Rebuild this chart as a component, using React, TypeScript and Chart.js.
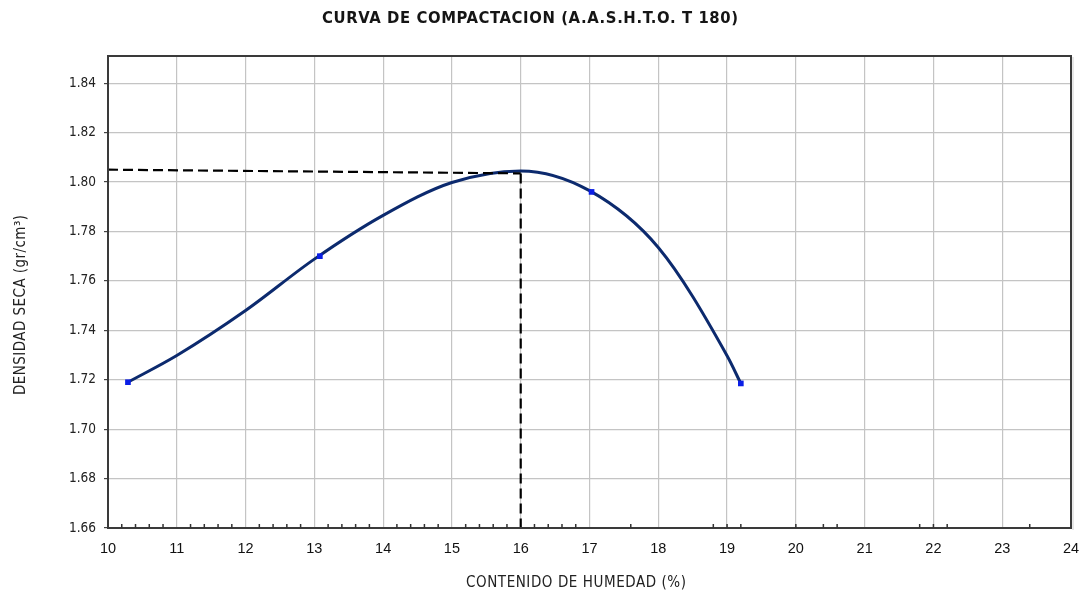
import React, { useEffect, useRef } from "react";
import { Chart, registerables } from "chart.js";

Chart.register(...registerables);

// Ensayo Proctor modificado: puntos medidos
const humedad = [10.29, 13.08, 17.03, 19.2];
const densidad = [1.719, 1.77, 1.796, 1.7185];

// Curva de ajuste leída a lo largo del trazo
const curvaHumedad = [10.29, 11, 12, 13, 14, 15, 16, 17, 18, 19, 19.2];
const curvaDensidad = [1.719, 1.7298, 1.748, 1.7688, 1.7865, 1.7998, 1.8045, 1.7965, 1.7735, 1.7297, 1.7185];

// Lineas de referencia: densidad seca maxima y humedad optima
const maxDensX = [10, 16];
const maxDensY = [1.805, 1.8035];
const optHumX = [16, 16];
const optHumY = [1.8035, 1.66];

// Marcas menores sobre el eje horizontal
const marcasMenores = [
  10.2, 10.4, 10.6, 10.8, 11.2, 11.4, 11.6, 11.8, 12.2, 12.4, 12.6, 12.8,
  13.2, 13.4, 13.6, 13.8, 14.2, 14.4, 14.6, 14.8, 15.2, 15.4, 15.6, 15.8,
  16.2, 16.4, 16.6, 16.8, 17.6, 18.8, 19, 19.2, 20, 20.4, 20.6, 21.8, 22, 22.2, 23.4,
];

const titulo = "CURVA DE COMPACTACION (A.A.S.H.T.O. T 180)";
const tituloX = "CONTENIDO DE HUMEDAD (%)";
const tituloY = "DENSIDAD SECA (gr/cm\u00B3)";

const pts = (xs: number[], ys: number[]) => xs.map((x, i) => ({ x, y: ys[i] }));

function drawSpaced(ctx: CanvasRenderingContext2D, text: string, cx: number, cy: number, targetW: number) {
  (ctx as any).letterSpacing = "0px";
  const w = ctx.measureText(text).width;
  const ls = (targetW - w) / (text.length - 1);
  (ctx as any).letterSpacing = ls + "px";
  ctx.textAlign = "left";
  ctx.fillText(text, cx - targetW / 2, cy);
  (ctx as any).letterSpacing = "0px";
}

const decorPlugin = {
  id: "decor",
  afterDatasetsDraw(chart: any) {
    const { ctx, chartArea: a, scales } = chart;
    ctx.save();
    // marco del grafico
    ctx.strokeStyle = "#d0d0d0";
    ctx.lineWidth = 1;
    ctx.beginPath();
    ctx.moveTo(a.right + 2, a.top + 1);
    ctx.lineTo(a.right + 2, a.bottom + 2);
    ctx.stroke();
    ctx.strokeStyle = "#3a3a3a";
    ctx.lineWidth = 2;
    ctx.strokeRect(a.left, a.top, a.right - a.left, a.bottom - a.top);
    // marcas menores
    ctx.strokeStyle = "#333";
    ctx.lineWidth = 1.5;
    ctx.beginPath();
    for (const v of marcasMenores) {
      const px = scales.x.getPixelForValue(v);
      ctx.moveTo(px, a.bottom);
      ctx.lineTo(px, a.bottom - 4);
    }
    ctx.stroke();
    ctx.restore();
  },
  afterDraw(chart: any) {
    const { ctx } = chart;
    ctx.save();
    ctx.fillStyle = "#151515";
    ctx.textBaseline = "middle";
    ctx.font = "bold 16.5px 'DejaVu Sans Condensed', 'DejaVu Sans'";
    drawSpaced(ctx, titulo, 530, 19, 416);
    ctx.fillStyle = "#222";
    ctx.font = "15px 'DejaVu Sans Condensed', 'DejaVu Sans'";
    drawSpaced(ctx, tituloX, 576, 583, 220);
    ctx.translate(21, 305);
    ctx.rotate(-Math.PI / 2);
    drawSpaced(ctx, tituloY, 0, 0, 180);
    ctx.restore();
  },
};

export default function App() {
  const ref = useRef<HTMLCanvasElement | null>(null);
  useEffect(() => {
    if (!ref.current) return;
    const chart = new Chart(ref.current, {
      type: "scatter",
      data: {
        datasets: [
          {
            label: "Puntos",
            data: pts(humedad, densidad),
            showLine: false,
            pointStyle: "rect",
            pointRadius: 4,
            backgroundColor: "#0a1ee6",
            borderColor: "#0a1ee6",
            borderWidth: 0,
            order: 0,
          },
          {
            label: "Densidad maxima",
            data: pts(maxDensX, maxDensY),
            showLine: true,
            borderColor: "#000",
            borderWidth: 2.2,
            borderDash: [10, 5],
            pointRadius: 0,
            order: 1,
          },
          {
            label: "Humedad optima",
            data: pts(optHumX, optHumY),
            showLine: true,
            borderColor: "#000",
            borderWidth: 2.2,
            borderDash: [10, 5],
            pointRadius: 0,
            order: 1,
          },
          {
            label: "Curva",
            data: pts(curvaHumedad, curvaDensidad),
            showLine: true,
            borderColor: "#0c2a6e",
            borderWidth: 3,
            pointRadius: 0,
            cubicInterpolationMode: "monotone",
            order: 2,
          },
        ],
      },
      options: {
        animation: false,
        responsive: true,
        maintainAspectRatio: false,
        layout: { padding: { top: 56, right: 15, left: 0, bottom: 0 } },
        plugins: { legend: { display: false }, tooltip: { enabled: false }, title: { display: false } },
        scales: {
          x: {
            type: "linear",
            min: 10,
            max: 24,
            ticks: {
              stepSize: 1,
              padding: 12,
              color: "#111",
              font: { family: "'Liberation Sans', Arial", size: 14.5 },
            },
            grid: { color: "#c4c4c4", lineWidth: 1.2, drawTicks: false },
            border: { display: false },
            afterFit: (s: any) => {
              s.height = 67;
              s.paddingLeft = 0;
              s.paddingRight = 0;
            },
          },
          y: {
            type: "linear",
            min: 1.66,
            max: 1.851,
            afterBuildTicks: (s: any) => { s.ticks = s.ticks.filter((t: any) => t.value <= 1.845); },
            ticks: {
              stepSize: 0.02,
              padding: 8,
              color: "#222",
              font: { family: "'DejaVu Sans Condensed', 'DejaVu Sans'", size: 13.5 },
              callback: (v: any) => Number(v).toFixed(2),
            },
            grid: { color: "#c4c4c4", lineWidth: 1.2, tickLength: 4, tickColor: "#444" },
            border: { display: false },
            afterFit: (s: any) => {
              s.width = 108;
              s.paddingTop = 0;
              s.paddingBottom = 0;
            },
          },
        },
      },
      plugins: [decorPlugin],
    });
    return () => chart.destroy();
  }, []);
  return (
    <div style={{ position: "fixed", left: 0, top: 0, width: 1086, height: 595, background: "#fff" }}>
      <canvas ref={ref} />
    </div>
  );
}
